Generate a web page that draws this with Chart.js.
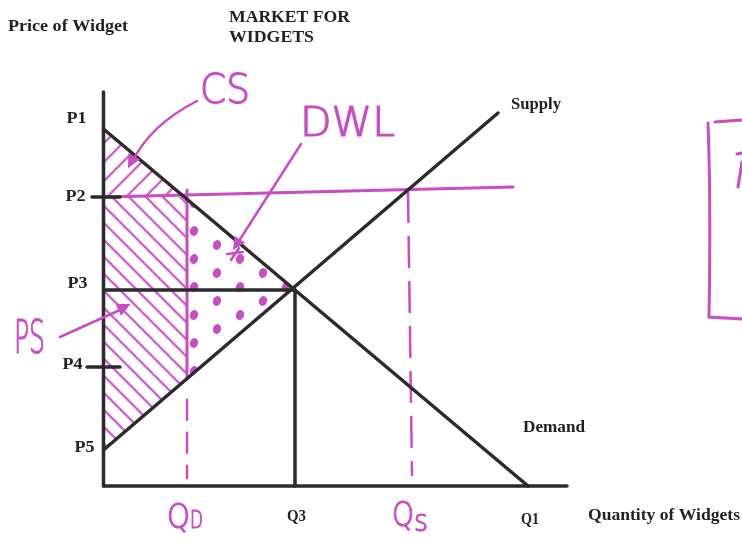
<!DOCTYPE html>
<html lang="en">
<head>
  <meta charset="UTF-8" />
  <title>Market for Widgets</title>
  <script src="https://cdn.jsdelivr.net/npm/chart.js"></script>
  <style>
    html, body { margin: 0; padding: 0; background: #fff; }
    #wrap { width: 742px; height: 546px; position: relative; }
  </style>
</head>
<body>
<div id="wrap"><canvas id="market"></canvas></div>

<script>
  // Price levels (top to bottom) and quantity levels, in diagram units
  const priceLabels = ['P1', 'P2', 'P3', 'P4', 'P5'];
  const priceLevels = [35.7, 28.9, 19.6, 11.9, 3.6];
  const quantityLabels = ['QD', 'Q3', 'QS', 'Q1'];
  const quantityLevels = [8.35, 19.15, 30.45, 42.45];

  // Supply curve end point and the hand-drawn price line (P2, slightly tilted)
  const supplyTop = [39.45, 37.3];
  const floorEnd = [40.95, 29.9];

  // axis lengths
  const qAxisMax = 46.35;
  const pAxisMax = 39.4;

  const [P1, P2, P3, P4, P5] = priceLevels;
  const [QD, Q3, QS, Q1] = quantityLevels;

  const ink = '#2b2b2b';
  const pen = '#c84cc4';
  const penLight = '#d066cd';

  const demandAt = q => P1 * (1 - q / Q1);
  const supplyAt = q => P5 + (supplyTop[1] - P5) * q / supplyTop[0];
  const qDemandAtP2 = Q1 * (1 - P2 / P1);

  // hatch / dot patterns for the shaded areas
  function hatch(dir, step, color, width) {
    const c = document.createElement('canvas');
    c.width = step; c.height = step;
    const g = c.getContext('2d');
    g.strokeStyle = color; g.lineWidth = width; g.lineCap = 'round';
    g.beginPath();
    for (let k = -1; k <= 1; k++) {
      if (dir > 0) { g.moveTo(k * step, step); g.lineTo(k * step + step, 0); }
      else { g.moveTo(k * step, 0); g.lineTo(k * step + step, step); }
    }
    g.stroke();
    return g.createPattern(c, 'repeat');
  }
  function dots(color) {
    const c = document.createElement('canvas');
    c.width = 46; c.height = 28;
    const g = c.getContext('2d');
    g.fillStyle = color;
    [[10, 7], [33, 21]].forEach(([x, y]) => {
      g.beginPath(); g.ellipse(x, y, 4, 5, 0.3, 0, Math.PI * 2); g.fill();
    });
    return g.createPattern(c, 'repeat');
  }

  function seg(points, color, width, order, dash) {
    return {
      data: points.map(p => ({ x: p[0], y: p[1] })),
      showLine: true, borderColor: color, borderWidth: width,
      borderDash: dash || [], pointRadius: 0, fill: false,
      borderCapStyle: 'round', order: order
    };
  }
  function area(points, pattern, order) {
    const pts = points.concat([points[0]]);
    return {
      data: pts.map(p => ({ x: p[0], y: p[1] })),
      showLine: true, borderWidth: 0, borderColor: 'rgba(0,0,0,0)',
      backgroundColor: pattern, fill: 'shape', pointRadius: 0, order: order
    };
  }

  const datasets = [
    // black diagram lines (on top)
    seg([[0, 0], [0, pAxisMax]], ink, 3.5, 1),
    seg([[0, 0], [qAxisMax, 0]], ink, 3.5, 1),
    seg([[0, P1], [Q1, 0]], ink, 3.5, 1),
    seg([[0, P5], supplyTop], ink, 3.5, 1),
    seg([[0, P3], [Q3, P3]], ink, 3.5, 1),
    seg([[Q3, P3], [Q3, 0]], ink, 3.5, 1),
    seg([[-1.15, P2], [1.65, P2]], ink, 3.5, 1),
    seg([[-1.65, P4], [1.65, P4]], ink, 3.5, 1),
    // pink lines
    seg([[0, P2], floorEnd], pen, 3, 2),
    seg([[QD, P2 + 0.7], [QD, supplyAt(QD)]], pen, 3, 2),
    seg([[QD, supplyAt(QD) - 2.1], [QD, 0.8]], pen, 2.5, 2, [20, 13]),
    seg([[QS, P2 + 0.5], [QS + 0.4, 1.1]], pen, 2.5, 2, [30, 15]),
    // shaded areas
    area([[0, P1], [qDemandAtP2, P2], [0, P2]], hatch(1, 19, penLight, 2.4), 3),
    area([[0, P2], [QD, P2], [QD, supplyAt(QD)], [0, P5]], hatch(-1, 17, penLight, 2.4), 3),
    area([[QD, demandAt(QD)], [Q3, P3], [QD, supplyAt(QD)]], dots(pen), 3)
  ];

  // fit text to a width, left edge x, vertical centre y
  function fitText(ctx, text, x, y, w, font, color, outline) {
    ctx.save();
    ctx.font = font;
    ctx.fillStyle = color;
    ctx.textBaseline = 'middle';
    ctx.textAlign = 'left';
    const m = ctx.measureText(text).width;
    ctx.translate(x, y);
    ctx.scale(w / m, 1);
    ctx.fillText(text, 0, 0);
    if (outline) {
      ctx.strokeStyle = color;
      ctx.lineWidth = outline;
      ctx.lineJoin = 'round';
      ctx.strokeText(text, 0, 0);
    }
    ctx.restore();
  }

  function arrowHead(ctx, tip, from, size) {
    const a = Math.atan2(tip[1] - from[1], tip[0] - from[0]);
    ctx.beginPath();
    ctx.moveTo(tip[0], tip[1]);
    ctx.lineTo(tip[0] - size * Math.cos(a - 0.45), tip[1] - size * Math.sin(a - 0.45));
    ctx.lineTo(tip[0] - size * Math.cos(a + 0.45), tip[1] - size * Math.sin(a + 0.45));
    ctx.closePath();
    ctx.fill();
  }

  const labelPlugin = {
    id: 'sketchLabels',
    afterDatasetsDraw(chart) {
      const ctx = chart.ctx;
      const xs = chart.scales.x, ys = chart.scales.y;
      const px = (q, p) => [xs.getPixelForValue(q), ys.getPixelForValue(p)];
      const serif = 'bold 16px "Liberation Serif", "DejaVu Serif", serif';
      const hand = '300 40px "DejaVu Sans", sans-serif';
      const handQ = '300 34px "DejaVu Sans", sans-serif';
      const handSub = '300 24px "DejaVu Sans", sans-serif';

      // printed titles
      fitText(ctx, 'Price of Widget', 8, 27, 120, serif, '#222');
      fitText(ctx, 'MARKET FOR', 229, 18, 121, serif, '#222');
      fitText(ctx, 'WIDGETS', 229, 38, 85, serif, '#222');
      fitText(ctx, 'Supply', 511, 105, 50, serif, '#222');
      fitText(ctx, 'Demand', 523, 428, 62, serif, '#222');
      fitText(ctx, 'Quantity of Widgets', 588, 516, 152, serif, '#222');

      // price tick labels
      const pNudge = [[-37, -10], [-38, 0], [-36, -6], [-41, -2], [-29, -2]];
      priceLabels.forEach((lab, i) => {
        const [x, y] = px(0, priceLevels[i]);
        fitText(ctx, lab, x + pNudge[i][0], y + pNudge[i][1], 20, serif, '#222');
      });

      // printed quantity tick labels
      const q3 = px(Q3, 0), q1 = px(Q1, 0);
      fitText(ctx, quantityLabels[1], q3[0] - 8, q3[1] + 31, 19, serif, '#222');
      fitText(ctx, quantityLabels[3], q1[0] - 7, q1[1] + 34, 18, serif, '#222');

      // hand-written quantity labels
      const qd = px(QD, 0), qs = px(QS, 0);
      fitText(ctx, 'Q', qd[0] - 20, qd[1] + 33, 23, handQ, pen, 1.2);
      fitText(ctx, 'D', qd[0] + 3, qd[1] + 36, 13, handSub, pen, 1.2);
      fitText(ctx, 'Q', qs[0] - 16, qs[1] + 31, 22, handQ, pen, 1.2);
      fitText(ctx, 's', qs[0] + 6, qs[1] + 37, 14, '300 30px "DejaVu Sans", sans-serif', pen, 1.2);

      // surplus labels
      fitText(ctx, 'CS', 200, 93, 50, hand, pen, 1.2);
      fitText(ctx, 'DWL', 300, 126, 95, hand, pen, 1.2);
      fitText(ctx, 'PS', 14, 341, 31, '300 46px "DejaVu Sans", sans-serif', pen, 1.2);

      // arrows from labels to areas
      ctx.save();
      ctx.strokeStyle = pen; ctx.fillStyle = pen;
      ctx.lineWidth = 2.5; ctx.lineCap = 'round';
      const csTip = px(qDemandAtP2 / 3.3, (P1 + P2 * 2) / 3 + 0.6);
      ctx.beginPath();
      ctx.moveTo(197, 101);
      ctx.quadraticCurveTo(150, 125, csTip[0] + 4, csTip[1] - 6);
      ctx.stroke();
      arrowHead(ctx, csTip, [150, 125], 15);

      const dwlTip = px(QD + 4.6, P3 + 4);
      ctx.beginPath();
      ctx.moveTo(301, 144);
      ctx.lineTo(dwlTip[0] + 4, dwlTip[1] - 6);
      ctx.stroke();
      arrowHead(ctx, dwlTip, [301, 144], 14);
      ctx.beginPath();
      ctx.moveTo(dwlTip[0] - 6, dwlTip[1] + 4); ctx.lineTo(dwlTip[0] + 10, dwlTip[1] + 2);
      ctx.moveTo(dwlTip[0] - 2, dwlTip[1] + 10); ctx.lineTo(dwlTip[0] + 6, dwlTip[1] - 2);
      ctx.stroke();

      const psTip = px(2.7, P3 - 1.4);
      ctx.beginPath();
      ctx.moveTo(60, 337);
      ctx.lineTo(psTip[0] - 4, psTip[1] + 3);
      ctx.stroke();
      arrowHead(ctx, psTip, [60, 337], 15);

      // partial box cut off at the right edge
      ctx.lineWidth = 3;
      ctx.beginPath();
      ctx.moveTo(742, 120); ctx.lineTo(715, 122);
      ctx.moveTo(708, 123); ctx.quadraticCurveTo(711, 200, 709, 317); ctx.lineTo(742, 319);
      ctx.moveTo(737, 154); ctx.lineTo(742, 153);
      ctx.moveTo(742, 162); ctx.lineTo(738, 187);
      ctx.stroke();
      ctx.restore();
    }
  };

  new Chart(document.getElementById('market'), {
    type: 'scatter',
    data: { datasets: datasets },
    options: {
      responsive: true,
      maintainAspectRatio: false,
      animation: false,
      events: [],
      layout: { padding: 0 },
      plugins: { legend: { display: false }, tooltip: { enabled: false } },
      scales: {
        x: { type: 'linear', min: -10.35, max: 63.85, display: false },
        y: { type: 'linear', min: -6, max: 48.6, display: false }
      }
    },
    plugins: [labelPlugin]
  });
</script>
</body>
</html>
